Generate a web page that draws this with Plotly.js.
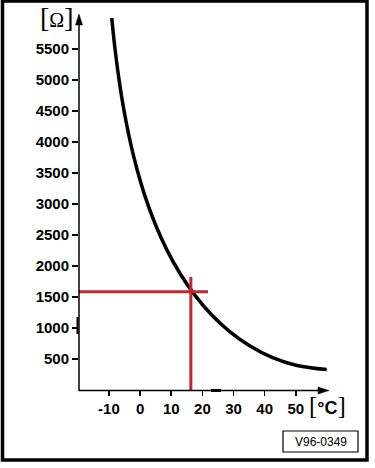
<!DOCTYPE html>
<html>
<head>
<meta charset="utf-8">
<script src="https://cdn.plot.ly/plotly-3.0.1.min.js"></script>
<style>
html,body{margin:0;padding:0;background:#fff;}
#chart{width:375px;height:468px;}
</style>
</head>
<body>
<div id="chart"></div>
<script>
// ---- data ----
var temperatureC = [-9.10, -8.69, -8.05, -7.08, -5.90, -4.51, -2.91, -0.98, 1.58, 4.79, 8.64, 12.82, 17.63, 23.09, 28.87, 35.29, 42.35, 50.37, 59.90];
var resistanceOhm = [6011, 5799, 5506, 5124, 4727, 4335, 3950, 3560, 3127, 2686, 2256, 1879, 1527, 1206, 939, 711, 527, 395, 329];

var markTemp = [16.3];      // red crosshair temperature
var markOhm = [1585];       // red crosshair resistance

var xTicks = [-10, 0, 10, 20, 30, 40, 50];
var yTicks = [500, 1000, 1500, 2000, 2500, 3000, 3500, 4000, 4500, 5000, 5500];

var xRange = [-19.6, 60];
var yRange = [0, 6000];

var figureCode = 'V96-0349';
var yUnit = 'Ω';
var xUnit = '°C';

// ---- layout geometry ----
var W = 375, H = 468;
var M = {l: 79, r: 48, t: 18, b: 78};
var PW = W - M.l - M.r, PH = H - M.t - M.b;
function px(x) { return (x - M.l) / PW; }
function py(y) { return 1 - (y - M.t) / PH; }

var red = 'rgb(192,40,48)';

var traces = [
  {
    x: temperatureC, y: resistanceOhm, mode: 'lines', type: 'scatter',
    line: {color: '#000', width: 3.5, shape: 'spline', smoothing: 1.0},
    cliponaxis: false, hoverinfo: 'skip', showlegend: false
  },
  {
    x: [xRange[0] - 6 * (xRange[1]-xRange[0]) / PW, markTemp[0] + 5.5], y: [markOhm[0], markOhm[0]],
    mode: 'lines', line: {color: red, width: 3}, cliponaxis: false, hoverinfo: 'skip', showlegend: false
  },
  {
    x: [markTemp[0], markTemp[0]], y: [markOhm[0] + 240, -160],
    mode: 'lines', line: {color: red, width: 3}, cliponaxis: false, hoverinfo: 'skip', showlegend: false
  }
];

var shapes = [
  // outer frame
  {type: 'rect', xref: 'paper', yref: 'paper', x0: px(2.5), x1: px(367), y0: py(1), y1: py(460),
   line: {color: '#000', width: 3.5}, fillcolor: 'rgba(0,0,0,0)', layer: 'above'},
  // y axis arrowhead
  {type: 'path', xref: 'paper', yref: 'paper',
   path: 'M ' + px(79) + ' ' + py(14) + ' L ' + px(75.5) + ' ' + py(25) + ' L ' + px(82.5) + ' ' + py(25) + ' Z',
   fillcolor: '#000', line: {color: '#000', width: 0.5}},
  // x axis arrowhead
  {type: 'path', xref: 'paper', yref: 'paper',
   path: 'M ' + px(329) + ' ' + py(390.5) + ' L ' + px(318) + ' ' + py(387) + ' L ' + px(318) + ' ' + py(394) + ' Z',
   fillcolor: '#000', line: {color: '#000', width: 0.5}},
  // y axis line extended to arrow
  {type: 'line', xref: 'paper', yref: 'paper', x0: px(79), x1: px(79), y0: py(391), y1: py(20),
   line: {color: '#000', width: 1.5}},
  // x axis line extended to arrow
  {type: 'line', xref: 'paper', yref: 'paper', x0: px(78.5), x1: px(322), y0: py(390.5), y1: py(390.5),
   line: {color: '#000', width: 1.5}},
  // small thick blemishes on the axes (as in the scan)
  {type: 'line', xref: 'paper', yref: 'paper', x0: px(77.5), x1: px(77.5), y0: py(317), y1: py(334),
   line: {color: '#000', width: 2}},
  {type: 'line', xref: 'paper', yref: 'paper', x0: px(211), x1: px(221), y0: py(390.5), y1: py(390.5),
   line: {color: '#000', width: 3}},
  // figure code box
  {type: 'rect', xref: 'paper', yref: 'paper', x0: px(283), x1: px(358), y0: py(431), y1: py(452),
   line: {color: '#000', width: 1.2}, fillcolor: '#fff'}
];

var annotations = [
  {xref: 'paper', yref: 'paper', x: px(57), y: py(17), xanchor: 'center', yanchor: 'middle', showarrow: false,
   text: '<span style="font-size:28px">[</span>' + yUnit + '<span style="font-size:28px">]</span>',
   font: {family: 'Liberation Serif, serif', size: 20, color: '#000'}},
  {xref: 'paper', yref: 'paper', x: px(327), y: py(405.5), xanchor: 'center', yanchor: 'middle', showarrow: false,
   text: '<span style="font-family:Liberation Serif;font-weight:normal;font-size:25px">[</span>' + xUnit +
         '<span style="font-family:Liberation Serif;font-weight:normal;font-size:25px">]</span>',
   font: {family: 'Liberation Sans, Arial, sans-serif', size: 18, weight: 'bold', color: '#000'}},
  {xref: 'paper', yref: 'paper', x: px(320.5), y: py(441.5), xanchor: 'center', yanchor: 'middle', showarrow: false,
   text: figureCode, font: {family: 'Liberation Sans, Arial, sans-serif', size: 12, color: '#000'}}
];

var tickFont = {family: 'Liberation Sans, Arial, sans-serif', size: 15, weight: 'bold', color: '#000'};

var layout = {
  width: W, height: H,
  margin: M,
  paper_bgcolor: '#fff', plot_bgcolor: '#fff',
  showlegend: false,
  xaxis: {
    range: xRange, tickvals: xTicks, ticktext: xTicks.map(String),
    showgrid: false, zeroline: false, showline: false,
    ticks: 'outside', ticklen: 5, tickwidth: 1.5, tickcolor: '#000',
    tickfont: tickFont, fixedrange: true
  },
  yaxis: {
    range: yRange, tickvals: yTicks, ticktext: yTicks.map(String),
    showgrid: false, zeroline: false, showline: false,
    ticks: 'outside', ticklen: 6, tickwidth: 1.5, tickcolor: '#000',
    tickfont: tickFont, fixedrange: true
  },
  shapes: shapes,
  annotations: annotations
};

Plotly.newPlot('chart', traces, layout, {displayModeBar: false, staticPlot: true});
</script>
</body>
</html>
